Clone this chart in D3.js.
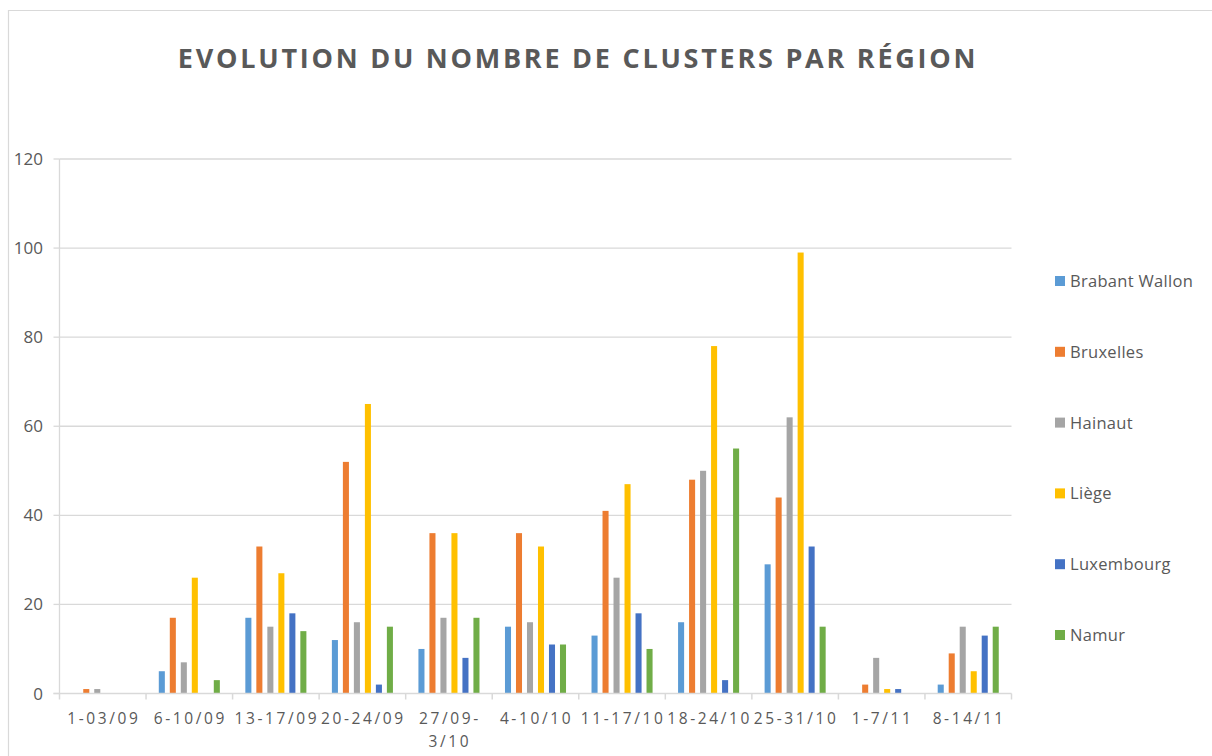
<!DOCTYPE html>
<html>
<head>
<meta charset="utf-8">
<script src="https://cdn.jsdelivr.net/npm/d3@7"></script>
<style>
  html, body { margin: 0; padding: 0; background: #fff; }
  svg { display: block; }
  text { font-family: "Open Sans", "Liberation Sans", sans-serif; fill: #595959; }
</style>
</head>
<body>
<svg id="chart" width="1212" height="756"></svg>
<script>
const categories = ["1-03/09", "6-10/09", "13-17/09", "20-24/09", "27/09-\n3/10", "4-10/10", "11-17/10", "18-24/10", "25-31/10", "1-7/11", "8-14/11"];
const series = ["Brabant Wallon", "Bruxelles", "Hainaut", "Liège", "Luxembourg", "Namur"];
const colors = ["#5B9BD5", "#ED7D31", "#A5A5A5", "#FFC000", "#4472C4", "#70AD47"];
const brabantWallon = [0, 5, 17, 12, 10, 15, 13, 16, 29, 0, 2];
const bruxelles     = [1, 17, 33, 52, 36, 36, 41, 48, 44, 2, 9];
const hainaut       = [1, 7, 15, 16, 17, 16, 26, 50, 62, 8, 15];
const liege         = [0, 26, 27, 65, 36, 33, 47, 78, 99, 1, 5];
const luxembourg    = [0, 0, 18, 2, 8, 11, 18, 3, 33, 1, 13];
const namur         = [0, 3, 14, 15, 17, 11, 10, 55, 15, 0, 15];
const yTicks = [0, 20, 40, 60, 80, 100, 120];
const title = "EVOLUTION DU NOMBRE DE CLUSTERS PAR RÉGION";

const values = [brabantWallon, bruxelles, hainaut, liege, luxembourg, namur];

const svg = d3.select("#chart");

// chart frame
svg.append("path")
  .attr("d", "M8.5,756 V10.5 H1212")
  .attr("fill", "none").attr("stroke", "#d9d9d9").attr("stroke-width", 1.2);

const plotLeft = 59.5, plotRight = 1011.5, plotTop = 159, plotBottom = 693.5;

const x0 = d3.scaleBand().domain(categories).range([plotLeft, plotRight]).paddingInner(0).paddingOuter(0);
const bw = x0.bandwidth();
const x1 = d3.scaleBand().domain(series).range([(bw - 66) / 2, (bw + 66) / 2]).paddingInner(0.45).paddingOuter(0.225);
const y = d3.scaleLinear().domain([0, 120]).range([plotBottom, plotTop]);

// title
svg.append("text")
  .attr("x", 578).attr("y", 68)
  .attr("text-anchor", "middle")
  .attr("font-size", 27).attr("font-weight", "bold")
  .attr("letter-spacing", "2.75px")
  .style("fill", "#595959")
  .text(title);

// gridlines
svg.append("g").selectAll("line").data(yTicks.filter(d => d > 0)).join("line")
  .attr("x1", plotLeft).attr("x2", plotRight)
  .attr("y1", d => y(d)).attr("y2", d => y(d))
  .attr("stroke", "#d9d9d9").attr("stroke-width", 1.3);

// y axis line and ticks
svg.append("line")
  .attr("x1", plotLeft).attr("x2", plotLeft)
  .attr("y1", plotTop).attr("y2", plotBottom)
  .attr("stroke", "#d9d9d9").attr("stroke-width", 1.3);
svg.append("g").selectAll("line").data(yTicks).join("line")
  .attr("x1", plotLeft - 6).attr("x2", plotLeft)
  .attr("y1", d => y(d)).attr("y2", d => y(d))
  .attr("stroke", "#d9d9d9").attr("stroke-width", 1.3);

// y labels
svg.append("g").selectAll("text").data(yTicks).join("text")
  .attr("x", 43).attr("y", d => y(d) + 6)
  .attr("text-anchor", "end")
  .attr("font-size", 17)
  .text(d => d);

// bars
const groups = svg.append("g").selectAll("g").data(categories).join("g")
  .attr("transform", d => `translate(${x0(d)},0)`);
groups.selectAll("rect")
  .data((c, ci) => series.map((s, si) => ({ s, si, v: values[si][ci] })))
  .join("rect")
  .attr("x", d => x1(d.s))
  .attr("width", x1.bandwidth())
  .attr("y", d => y(d.v))
  .attr("height", d => y(0) - y(d.v))
  .attr("fill", d => colors[d.si]);

// x axis line and ticks
svg.append("line")
  .attr("x1", plotLeft - 6).attr("x2", plotRight)
  .attr("y1", plotBottom).attr("y2", plotBottom)
  .attr("stroke", "#d9d9d9").attr("stroke-width", 1.5);
const boundaries = categories.map(c => x0(c)).concat([plotRight]);
svg.append("g").selectAll("line").data(boundaries).join("line")
  .attr("x1", d => d).attr("x2", d => d)
  .attr("y1", plotBottom).attr("y2", plotBottom + 6)
  .attr("stroke", "#d9d9d9").attr("stroke-width", 1.5);

// x labels
const xl = svg.append("g").selectAll("text").data(categories).join("text")
  .attr("x", d => x0(d) + bw / 2 + 1)
  .attr("y", 724)
  .attr("text-anchor", "middle")
  .attr("font-size", 15.5)
  .attr("letter-spacing", "2.6px");
xl.each(function (d) {
  const lines = d.split("\n");
  const t = d3.select(this);
  lines.forEach((ln, i) => {
    t.append("tspan").attr("x", x0(d) + bw / 2 + 1).attr("dy", i === 0 ? 0 : 23).text(ln);
  });
});

// legend
const leg = svg.append("g").selectAll("g").data(series).join("g")
  .attr("transform", (d, i) => `translate(1055,${281 + i * 70.8})`);
leg.append("rect").attr("x", 0).attr("y", -5).attr("width", 10).attr("height", 10)
  .attr("fill", (d, i) => colors[i]);
leg.append("text").attr("x", 15).attr("y", 6)
  .attr("font-size", 16.5).attr("letter-spacing", "0.3px")
  .text(d => d);
</script>
</body>
</html>
